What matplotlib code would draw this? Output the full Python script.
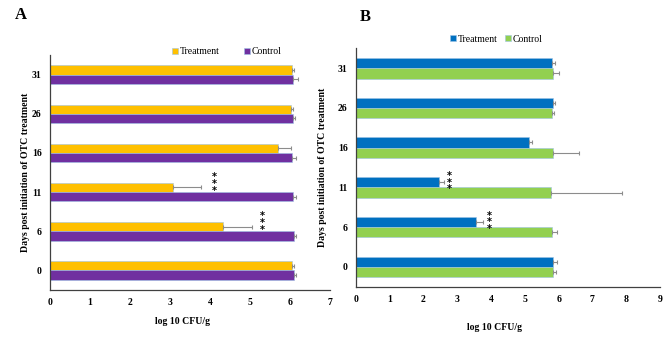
import numpy as np
import matplotlib
matplotlib.use("Agg")
import matplotlib.pyplot as plt

plt.rcParams['font.family'] = ['Liberation Serif', 'DejaVu Serif']

days = ['0', '6', '11', '16', '26', '31']

# Panel A (bottom to top: 0, 6, 11, 16, 26, 31)
a_treat = [6.05, 4.33, 3.07, 5.69, 6.03, 6.04]
a_treat_err = [0.04, 0.73, 0.71, 0.33, 0.04, 0.07]
a_ctrl = [6.10, 6.10, 6.08, 6.06, 6.07, 6.08]
a_ctrl_err = [0.05, 0.05, 0.08, 0.09, 0.06, 0.12]
a_stars = {'6': 5.3, '11': 4.1}

# Panel B
b_treat = [5.84, 3.55, 2.46, 5.11, 5.84, 5.81]
b_treat_err = [0.10, 0.20, 0.15, 0.09, 0.05, 0.08]
b_ctrl = [5.84, 5.79, 5.76, 5.82, 5.80, 5.82]
b_ctrl_err = [0.08, 0.17, 2.13, 0.77, 0.06, 0.20]
b_stars = {'6': 3.96, '11': 2.76}

fig = plt.figure(figsize=(6.69, 3.42), dpi=100)
axA = fig.add_axes([0.0747, 0.152, 0.4186, 0.687])
axB = fig.add_axes([0.532, 0.1617, 0.4545, 0.697])


def panel(ax, treat, terr, ctrl, cerr, stars, star_dy, h, c_t, c_c, xmax,
          xlab_pos, ylab_x):
    y = np.arange(len(days))
    ekw = dict(ecolor='#8c8c8c', elinewidth=0.8, capsize=1.5, capthick=0.8)
    z = np.zeros(len(days))
    ax.barh(y + h / 2, treat, height=h, color=c_t, edgecolor='#9dc3e6',
            linewidth=0.4, xerr=[z, terr], error_kw=ekw, label='Treatment')
    ax.barh(y - h / 2, ctrl, height=h, color=c_c, edgecolor='#9dc3e6',
            linewidth=0.4, xerr=[z, cerr], error_kw=ekw, label='Control')
    for d, xs in stars.items():
        i = days.index(d)
        ax.text(xs, i + star_dy, '*\n*\n*', ha='center', va='center',
                fontsize=7, fontweight='bold', linespacing=0.6,
                family='DejaVu Sans')
    ax.set_xlim(0, xmax)
    ax.set_ylim(-0.5, len(days) - 0.5)
    ax.set_xticks(range(xmax + 1))
    ax.set_yticks(y)
    ax.set_yticklabels(days)
    ax.tick_params(length=0, labelsize=7, pad=6)
    for lab in ax.get_xticklabels() + ax.get_yticklabels():
        lab.set_fontweight('bold')
    for s in ['top', 'right']:
        ax.spines[s].set_visible(False)
    for s in ['left', 'bottom']:
        ax.spines[s].set_color('#404040')
        ax.spines[s].set_linewidth(0.9)
    ax.set_xlabel('log 10 CFU/g', fontsize=7, fontweight='bold')
    ax.xaxis.set_label_coords(*xlab_pos)
    ax.set_ylabel('Days post initiation of OTC treatment', fontsize=7,
                  fontweight='bold')
    ax.yaxis.set_label_coords(ylab_x, 0.5)


panel(axA, a_treat, a_treat_err, a_ctrl, a_ctrl_err, a_stars, 0.21, 0.237,
      '#FFC000', '#7030A0', 7, (0.475, -0.114), -0.071)
panel(axB, b_treat, b_treat_err, b_ctrl, b_ctrl_err, b_stars, 0.12, 0.26,
      '#0070C0', '#92D050', 9, (0.457, -0.152), -0.095)

fig.legend(*axA.get_legend_handles_labels(), loc='center',
           bbox_to_anchor=(0.339, 0.848), ncol=2, frameon=False, fontsize=7,
           handlelength=0.6, handleheight=0.6, columnspacing=2.5,
           handletextpad=0.2)
fig.legend(*axB.get_legend_handles_labels(), loc='center',
           bbox_to_anchor=(0.742, 0.885), ncol=2, frameon=False, fontsize=7,
           handlelength=0.6, handleheight=0.6, columnspacing=0.8,
           handletextpad=0.2)

fig.text(0.022, 0.955, 'A', fontsize=12, fontweight='bold', va='center')
fig.text(0.538, 0.95, 'B', fontsize=12, fontweight='bold', va='center')

fig.savefig('out.png', dpi=100)
